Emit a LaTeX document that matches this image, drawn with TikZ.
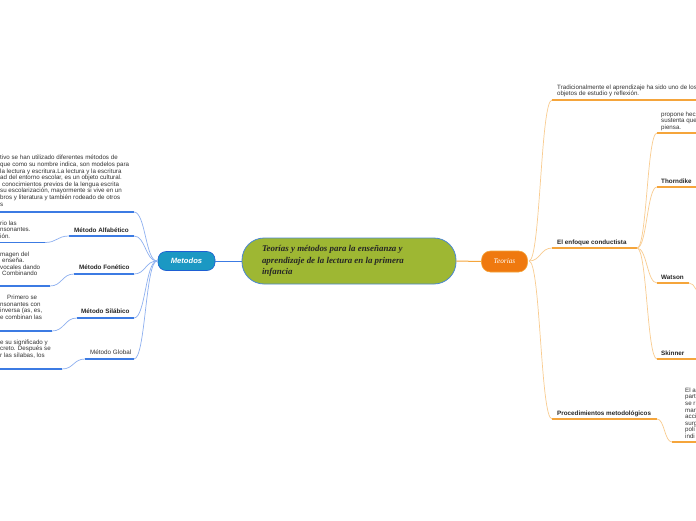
\documentclass[tikz,border=0pt]{standalone}
\usepackage{fontspec}
\setmainfont{Liberation Sans}
\newfontfamily\serifbi{Liberation Serif}
\usetikzlibrary{calc}
\definecolor{bl}{HTML}{3C7BE3}
\definecolor{blc}{HTML}{8EB0F0}
\definecolor{orn}{HTML}{F5A53B}
\definecolor{ornc}{HTML}{F9CC90}
\definecolor{txt}{HTML}{333333}
\definecolor{olive}{HTML}{9EB733}
\definecolor{ctrb}{HTML}{4A87D2}
\definecolor{metf}{HTML}{1B98C3}
\definecolor{metb}{HTML}{1E5FD3}
\definecolor{teof}{HTML}{EF790F}
\tikzset{
  mm/.style={to path={let \p1=(\tikztostart), \p2=(\tikztotarget) in
     .. controls ({(\x1+\x2)/2},\y1) and ({(\x1+\x2)/2},\y2) .. (\tikztotarget)}},
  cb/.style={draw=blc, line width=0.7pt},
  ub/.style={draw=bl, line width=1.6pt},
  co/.style={draw=ornc, line width=0.7pt},
  uo/.style={draw=orn, line width=1.6pt},
  small/.style={font=\fontsize{6.2}{6.6}\selectfont, text=txt, inner sep=0pt, align=left, anchor=north west},
  lab/.style={font=\fontsize{6.3}{6.6}\selectfont\bfseries, text=black!85, inner sep=0pt, anchor=base west},
  labn/.style={font=\fontsize{6.3}{6.6}\selectfont, text=txt, inner sep=0pt, anchor=base west},
}
\begin{document}
\begin{tikzpicture}[x=1pt,y=-1pt]
\useasboundingbox (0,0) rectangle (696,520);
\fill[white] (0,0) rectangle (696,520);
\clip (0,0) rectangle (696,520);

% central nodes
\node[draw=ctrb, fill=olive, rounded corners=22pt, minimum width=214pt, minimum height=46pt,
      line width=0.8pt, inner sep=0pt, align=left,
      font=\serifbi\bfseries\itshape\fontsize{8.9}{11.5}\selectfont, text=black!85] (root) at (349,261)
  {\makebox[174pt][l]{Teorías y métodos para la enseñanza y}\\aprendizaje de la lectura en la primera\\infancia};
\node[fill=metf, draw=metb, line width=0.6pt, rounded corners=8pt, minimum width=57pt, minimum height=19pt,
      font=\fontsize{7.6}{8}\selectfont\bfseries\itshape, text=white] (met) at (186.5,261) {Metodos};
\node[fill=teof, draw=orn, line width=0.6pt, rounded corners=9pt, minimum width=46pt, minimum height=21pt,
      font=\serifbi\itshape\fontsize{7.3}{8}\selectfont, text=white] (teo) at (504.5,261.5) {Teorias};
\draw[bl, line width=1pt] (met.east) -- (root.west);
\draw[orn, line width=1pt] (root.east) -- (teo.west);

% ---------- left side ----------
\coordinate (jL) at (157,261);
\coordinate (u1r) at (134,212); \coordinate (u1l) at (-2,212);
\draw[cb] (jL) to[mm] (u1r); \draw[ub] (u1r) -- (u1l);
\node[small] (t1) at (0,155.2) {tivo se han utilizado diferentes métodos de\\
que como su nombre indica, son modelos para\\
la lectura y escritura.La lectura y la escritura\\
ad del entorno escolar, es un objeto cultural.\\
\hspace*{2pt}conocimientos previos de la lengua escrita\\
su escolarización, mayormente si vive en un\\
bros y literatura y también rodeado de otros\\
s};

\coordinate (aR) at (134,236); \coordinate (aL) at (69,236);
\coordinate (asR) at (45,242.5); \coordinate (asL) at (-2,242.5);
\draw[cb] (jL) to[mm] (aR); \draw[ub] (aR) -- (aL);
\draw[cb] (aL) to[mm] (asR); \draw[ub] (asR) -- (asL);
\node[lab] (la) at (74,232) {Método Alfabético};
\node[small] (ta) at (0,220.5) {rio las\\nsonantes.\\ión.};

\coordinate (fR) at (134,274); \coordinate (fL) at (74,274);
\coordinate (fsR) at (50,286); \coordinate (fsL) at (-2,286);
\draw[cb] (jL) to[mm] (fR); \draw[ub] (fR) -- (fL);
\draw[cb] (fL) to[mm] (fsR); \draw[ub] (fsR) -- (fsL);
\node[lab] (lf) at (79,269) {Método Fonético};
\node[small] (tf) at (0,251.5) {magen del\\\hspace*{2pt}enseña.\\vocales dando\\\hspace*{2pt}Combinando};

\coordinate (sR) at (134,318); \coordinate (sL) at (77,318);
\coordinate (ssR) at (52,331); \coordinate (ssL) at (-2,331);
\draw[cb] (jL) to[mm] (sR); \draw[ub] (sR) -- (sL);
\draw[cb] (sL) to[mm] (ssR); \draw[ub] (ssR) -- (ssL);
\node[lab] (ls) at (81,313) {Método Silábico};
\node[small] (ts) at (0,295) {\hspace*{7pt}Primero se\\nsonantes con\\inversa (as, es,\\e combinan las};

\coordinate (gR) at (134,359); \coordinate (gL) at (85,359);
\coordinate (gsR) at (62,369); \coordinate (gsL) at (-2,369);
\draw[cb] (jL) to[mm] (gR); \draw[ub] (gR) -- (gL);
\draw[cb] (gL) to[mm] (gsR); \draw[ub] (gsR) -- (gsL);
\node[labn] (lg) at (90,354) {Método Global};
\node[small] (tg) at (0,339.5) {e su significado y\\creto. Después se\\r las sílabas, los};

% ---------- right side ----------
\coordinate (jR) at (529,261);
\coordinate (trL) at (552,100); \coordinate (trR) at (698,100);
\draw[co] (jR) to[mm] (trL); \draw[uo] (trL) -- (trR);
\node[small] (ttr) at (557,84.5) {Tradicionalmente el aprendizaje ha sido uno de los\\objetos de estudio y reflexión.};

\coordinate (eL) at (552,248); \coordinate (eR) at (637,248);
\draw[co] (jR) to[mm] (eL); \draw[uo] (eL) -- (eR);
\node[lab] (le) at (557,244) {El enfoque conductista};

\coordinate (pL) at (552,419); \coordinate (pR) at (657,419);
\draw[co] (jR) to[mm] (pL); \draw[uo] (pL) -- (pR);
\node[lab] (lp) at (557,415) {Procedimientos metodológicos};

\coordinate (prL) at (657,133); \coordinate (prR) at (698,133);
\draw[co] (eR) to[mm] (prL); \draw[uo] (prL) -- (prR);
\node[small] (tpr) at (661,111.5) {propone hec\\sustenta que\\piensa.};

\coordinate (thL) at (657,187); \coordinate (thR) at (698,187);
\draw[co] (eR) to[mm] (thL); \draw[uo] (thL) -- (thR);
\node[lab] (lth) at (661,183) {Thorndike};

\coordinate (waL) at (657,283); \coordinate (waR) at (689,283); \coordinate (waT) at (702,294);
\draw[co] (eR) to[mm] (waL); \draw[uo] (waL) -- (waR);
\draw[co] (waR) to[mm] (waT);
\node[lab] (lwa) at (661,279) {Watson};

\coordinate (skL) at (657,359); \coordinate (skR) at (698,359);
\draw[co] (eR) to[mm] (skL); \draw[uo] (skL) -- (skR);
\node[lab] (lsk) at (661,355) {Skinner};

\coordinate (elL) at (672,442); \coordinate (elR) at (698,442);
\draw[co] (pR) to[mm] (elL); \draw[uo] (elL) -- (elR);
\node[small] (tel) at (685,387.5) {El a\\part\\se r\\mar\\acci\\surg\\polí\\indi};
\end{tikzpicture}
\end{document}
